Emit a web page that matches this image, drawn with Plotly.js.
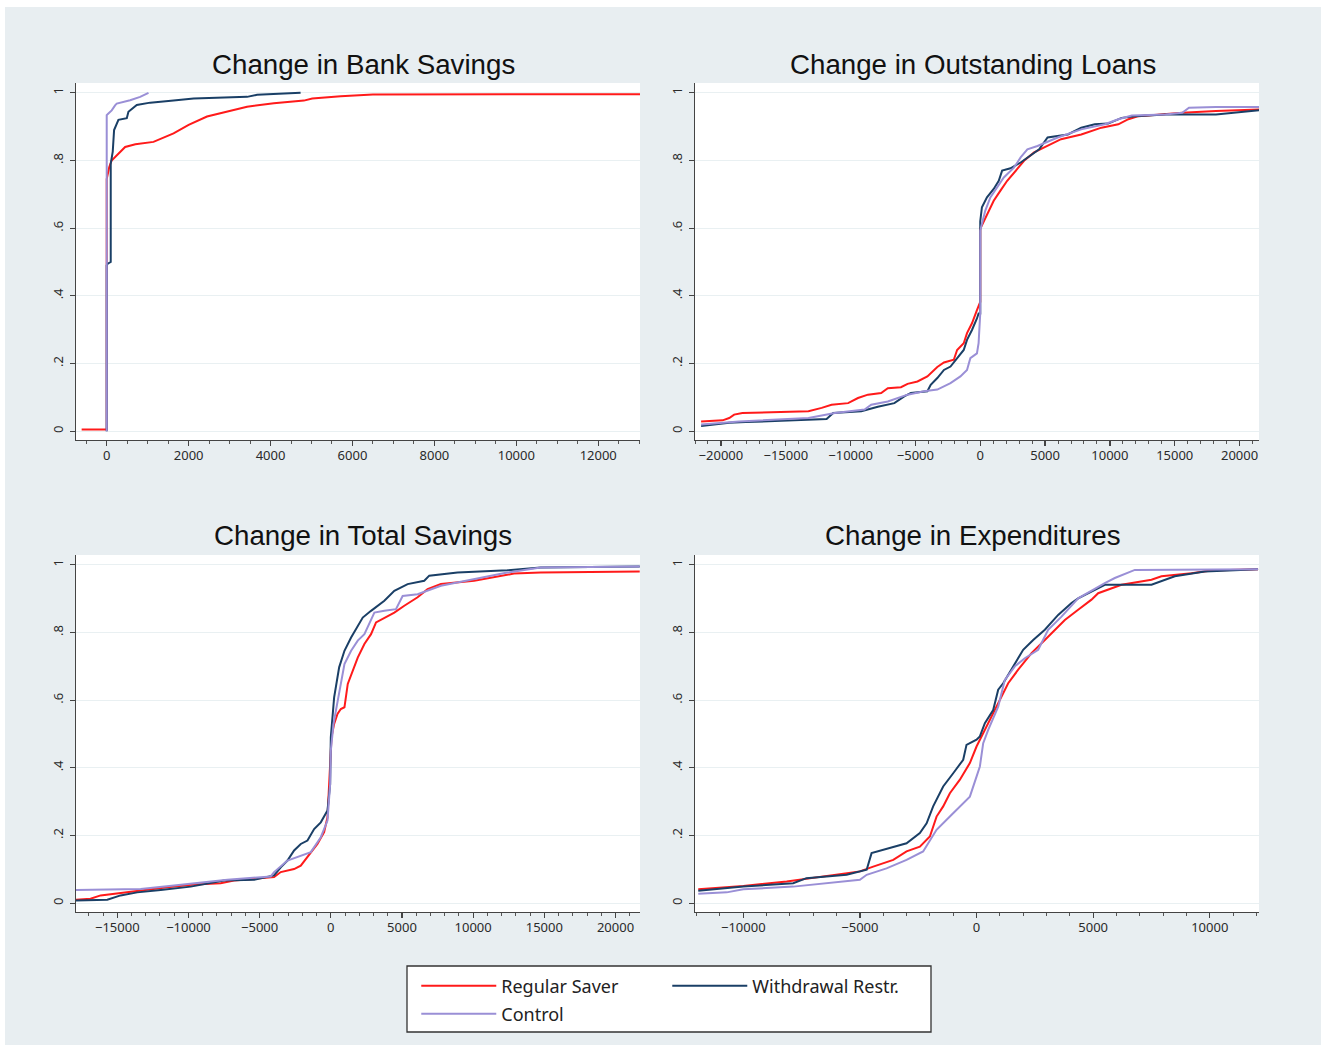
<!DOCTYPE html>
<html><head><meta charset="utf-8">
<script src="https://cdn.plot.ly/plotly-3.0.1.min.js"></script>
<style>
html,body{margin:0;padding:0;background:#ffffff;}
#chart{position:absolute;left:5px;top:7px;width:1316px;height:1038px;}
</style></head><body><div id="chart"></div>
<script>
// ---------- data ----------
const seriesNames = ['Regular Saver', 'Withdrawal Restr.', 'Control'];
const seriesColors = ['#ff1a1a', '#1a3f66', '#9a8fd6'];
const panelTitles = ['Change in Bank Savings', 'Change in Outstanding Loans', 'Change in Total Savings', 'Change in Expenditures'];
const yTickVals = [0, 0.2, 0.4, 0.6, 0.8, 1];
const yTickText = ['0', '.2', '.4', '.6', '.8', '1'];

// Panel 1: Change in Bank Savings
const bankRegX = [-612, 0, 0, 60, 120, 200, 300, 450, 700, 1142, 1632, 2000, 2448, 2938, 3427, 4080, 4814, 5018, 5712, 6500, 13020];
const bankRegY = [0.005, 0.005, 0.745, 0.78, 0.80, 0.81, 0.82, 0.84, 0.848, 0.855, 0.88, 0.905, 0.93, 0.944, 0.959, 0.969, 0.977, 0.983, 0.99, 0.995, 0.996];
const bankWrX = [0, 0, 24, 98, 98, 147, 180, 286, 490, 530, 734, 1061, 1632, 2122, 3427, 3672, 4733];
const bankWrY = [0, 0.49, 0.495, 0.5, 0.79, 0.826, 0.89, 0.92, 0.925, 0.944, 0.964, 0.971, 0.977, 0.983, 0.988, 0.994, 1.0];
const bankCtX = [0, 0, 41, 122, 204, 245, 571, 816, 1020];
const bankCtY = [0, 0.934, 0.939, 0.948, 0.963, 0.968, 0.978, 0.988, 1.0];

// Panel 2: Change in Outstanding Loans
const loanRegX = [-21530, -19870, -19360, -18980, -18345, -13250, -12230, -11470, -10190, -9430, -8660, -7640, -7130, -6115, -5605, -4840, -4076, -3311, -2800, -2038, -1784, -1274, -1020, -637, -255, -51, 0, 0, 519, 1039, 1558, 2078, 2857, 3376, 4155, 5194, 6233, 7791, 8570, 9349, 10648, 11427, 12206, 13764, 15582, 18180, 21685];
const loanRegY = [0.029, 0.032, 0.039, 0.049, 0.054, 0.059, 0.069, 0.078, 0.083, 0.098, 0.108, 0.113, 0.127, 0.13, 0.14, 0.147, 0.162, 0.19, 0.203, 0.211, 0.24, 0.26, 0.29, 0.319, 0.358, 0.382, 0.382, 0.598, 0.642, 0.681, 0.711, 0.74, 0.775, 0.799, 0.824, 0.843, 0.863, 0.877, 0.887, 0.897, 0.907, 0.922, 0.931, 0.936, 0.941, 0.946, 0.951];
const loanWrX = [-21530, -19360, -18090, -11850, -11340, -9170, -7900, -6625, -5860, -5350, -4076, -3820, -3311, -2800, -2293, -1784, -1274, -1020, -637, -255, -127, 0, 0, 130, 519, 1039, 1428, 1688, 2337, 3116, 3895, 4545, 5194, 6752, 7791, 8830, 9868, 10907, 11946, 14283, 18180, 21685];
const loanWrY = [0.015, 0.025, 0.027, 0.036, 0.054, 0.059, 0.072, 0.083, 0.103, 0.113, 0.118, 0.137, 0.157, 0.181, 0.191, 0.216, 0.24, 0.27, 0.299, 0.333, 0.348, 0.348, 0.62, 0.662, 0.691, 0.716, 0.74, 0.77, 0.777, 0.794, 0.814, 0.833, 0.868, 0.877, 0.897, 0.907, 0.909, 0.926, 0.931, 0.936, 0.936, 0.949];
const loanCtX = [-21530, -18600, -13250, -11720, -11210, -8920, -8410, -7130, -5605, -4330, -3311, -2293, -1530, -1020, -764, -255, -127, 0, 0, 130, 390, 779, 1299, 1818, 2598, 3116, 3636, 4415, 5973, 7791, 9609, 10648, 11687, 14283, 15582, 16100, 18180, 21685];
const loanCtY = [0.02, 0.029, 0.039, 0.049, 0.054, 0.064, 0.078, 0.088, 0.108, 0.118, 0.123, 0.142, 0.162, 0.181, 0.216, 0.23, 0.26, 0.348, 0.593, 0.613, 0.652, 0.691, 0.721, 0.75, 0.779, 0.809, 0.833, 0.843, 0.868, 0.892, 0.907, 0.922, 0.933, 0.936, 0.941, 0.956, 0.958, 0.958];

// Panel 3: Change in Total Savings
const totRegX = [-17930, -16880, -16170, -15240, -13360, -11490, -9600, -7740, -6800, -5390, -3985, -3516, -2580, -2110, -1640, -938, -469, -234, 0, 47, 234, 469, 703, 958, 1191, 1542, 1892, 2359, 2826, 3177, 3761, 4462, 5163, 6098, 6798, 7733, 10068, 12870, 14740, 21700];
const totRegY = [0.01, 0.013, 0.023, 0.028, 0.037, 0.047, 0.055, 0.059, 0.067, 0.072, 0.077, 0.092, 0.101, 0.111, 0.136, 0.175, 0.21, 0.254, 0.45, 0.49, 0.53, 0.559, 0.574, 0.579, 0.648, 0.687, 0.726, 0.766, 0.795, 0.83, 0.844, 0.859, 0.879, 0.904, 0.928, 0.943, 0.953, 0.974, 0.977, 0.98];
const totWrX = [-17930, -15700, -14770, -13600, -11950, -9845, -7500, -5390, -3985, -3516, -3047, -2578, -2110, -1640, -1172, -703, -234, -47, 0, 234, 586, 820, 958, 1425, 1892, 2243, 2826, 3761, 4462, 5396, 6564, 6915, 8900, 12400, 14740, 21700];
const totWrY = [0.008, 0.01, 0.023, 0.032, 0.039, 0.049, 0.067, 0.069, 0.082, 0.106, 0.126, 0.156, 0.175, 0.185, 0.219, 0.239, 0.274, 0.352, 0.49, 0.608, 0.697, 0.726, 0.746, 0.785, 0.82, 0.844, 0.864, 0.894, 0.923, 0.943, 0.953, 0.968, 0.977, 0.984, 0.992, 0.995];
const totCtX = [-17930, -13360, -11020, -8670, -7270, -4220, -3985, -3047, -2110, -1406, -703, -234, -47, 0, 188, 469, 703, 958, 1425, 1892, 2359, 3060, 3761, 4579, 5046, 6098, 7733, 10068, 12400, 14740, 21700];
const totCtY = [0.039, 0.042, 0.052, 0.062, 0.069, 0.079, 0.092, 0.126, 0.141, 0.151, 0.195, 0.244, 0.352, 0.45, 0.53, 0.598, 0.648, 0.707, 0.746, 0.776, 0.795, 0.859, 0.864, 0.869, 0.908, 0.913, 0.938, 0.958, 0.977, 0.992, 0.995];

// Panel 4: Change in Expenditures
const expRegX = [-11930, -10000, -8140, -6140, -5000, -4430, -3570, -3000, -2430, -2000, -1714, -1430, -1143, -714, -286, 0, 357, 714, 1071, 1357, 1786, 2357, 2929, 3357, 3786, 4357, 4929, 5214, 6214, 7500, 7929, 9214, 10070, 12070];
const expRegY = [0.041, 0.051, 0.064, 0.084, 0.094, 0.108, 0.128, 0.153, 0.167, 0.197, 0.256, 0.286, 0.325, 0.365, 0.414, 0.463, 0.512, 0.562, 0.611, 0.65, 0.69, 0.739, 0.778, 0.808, 0.837, 0.867, 0.897, 0.916, 0.941, 0.956, 0.966, 0.975, 0.983, 0.987];
const expWrX = [-11930, -10000, -7860, -7290, -5570, -4710, -4500, -3570, -3000, -2430, -2140, -1860, -1430, -1000, -571, -430, 0, 143, 357, 714, 929, 1143, 1643, 2000, 2429, 2929, 3500, 4071, 4357, 4929, 5500, 7500, 8500, 9786, 12070];
const expWrY = [0.037, 0.049, 0.059, 0.074, 0.084, 0.099, 0.148, 0.167, 0.177, 0.207, 0.236, 0.286, 0.345, 0.384, 0.424, 0.468, 0.483, 0.493, 0.532, 0.571, 0.631, 0.65, 0.709, 0.749, 0.778, 0.808, 0.852, 0.887, 0.901, 0.921, 0.941, 0.941, 0.966, 0.98, 0.987];
const expCtX = [-11930, -10710, -10000, -7860, -5000, -4710, -3860, -3000, -2290, -1714, -1143, -714, -286, 0, 143, 286, 500, 929, 1214, 1643, 2071, 2643, 3071, 3643, 4357, 5500, 5929, 6786, 9357, 12070];
const expCtY = [0.028, 0.032, 0.041, 0.049, 0.069, 0.084, 0.103, 0.128, 0.153, 0.217, 0.256, 0.286, 0.315, 0.374, 0.404, 0.473, 0.512, 0.581, 0.66, 0.7, 0.724, 0.749, 0.808, 0.847, 0.901, 0.946, 0.961, 0.985, 0.985, 0.987];

// axis settings per panel
const xRanges = [[-750, 13020], [-22000, 21500], [-17900, 21720], [-12070, 12110]];
const xDticks = [2000, 5000, 5000, 5000];
const xMinor = [500, 1000, 1000, 1000];

// ---------- build ----------
const panels = [
  [[bankRegX, bankRegY], [bankWrX, bankWrY], [bankCtX, bankCtY]],
  [[loanRegX, loanRegY], [loanWrX, loanWrY], [loanCtX, loanCtY]],
  [[totRegX, totRegY], [totWrX, totWrY], [totCtX, totCtY]],
  [[expRegX, expRegY], [expWrX, expWrY], [expCtX, expCtY]]
];

const traces = [];
panels.forEach((p, pi) => {
  p.forEach((s, si) => {
    traces.push({
      type: 'scatter', mode: 'lines',
      x: s[0], y: s[1],
      name: seriesNames[si],
      line: {color: seriesColors[si], width: 2},
      xaxis: 'x' + (pi === 0 ? '' : pi + 1),
      yaxis: 'y' + (pi === 0 ? '' : pi + 1),
      showlegend: pi === 0,
      legend: si === 2 ? 'legend2' : 'legend',
      hoverinfo: 'skip'
    });
  });
});

const W = 1316, H = 1038;
const mL = 71, mR = 62, mT = 76, mB = 133;
const pw = W - mL - mR, ph = H - mT - mB;
const xDomL = [0, (635 - mL) / pw];
const xDomR = [(690 - mL) / pw, 1];
const yDomT = [(H - mB - 433) / ph, 1];
const yDomB = [0, (H - mB - 548) / ph];

const tickFont = {family: 'Noto Sans, Open Sans, sans-serif', size: 13, color: '#2a2a2a'};
function xax(i, dom, anchor) {
  return {
    domain: dom, anchor: anchor, range: xRanges[i], dtick: xDticks[i], tick0: 0,
    showgrid: false, zeroline: false, showline: true, linecolor: '#444444', linewidth: 1.3,
    ticks: 'outside', ticklen: 5, tickwidth: 1.2, tickcolor: '#444444',
    minor: {dtick: xMinor[i], ticks: 'outside', ticklen: 3, tickwidth: 1, tickcolor: '#555555', showgrid: false},
    exponentformat: 'none', separatethousands: false, ticklabelstandoff: -2,
    tickfont: tickFont, fixedrange: true
  };
}
function yax(dom, anchor) {
  return {
    domain: dom, anchor: anchor, range: [-0.026, 1.029],
    tickvals: yTickVals, ticktext: yTickText, tickangle: -90, ticklabelstandoff: 2,
    showgrid: true, gridcolor: '#e9f0f2', gridwidth: 1.2,
    zeroline: false, showline: true, linecolor: '#444444', linewidth: 1.3,
    ticks: 'outside', ticklen: 5, tickwidth: 1.2, tickcolor: '#444444',
    tickfont: tickFont, fixedrange: true
  };
}

const titleFont = {family: 'Liberation Sans, Arial, sans-serif', size: 27.7, color: '#111111'};
const titleX = [(358 - mL) / pw, (968 - mL) / pw];
const titleY = [(H - mB - 57) / ph, (H - mB - 528) / ph];
const annotations = panelTitles.map((t, i) => ({
  text: t, xref: 'paper', yref: 'paper',
  x: titleX[i % 2], y: titleY[Math.floor(i / 2)],
  xanchor: 'center', yanchor: 'middle', showarrow: false, font: titleFont
}));

const legendFont = {family: 'Noto Sans, Open Sans, sans-serif', size: 18, color: '#222222'};
const boxX0 = (402 - mL) / pw, boxX1 = (926 - mL) / pw;
const boxY0 = (H - mB - 1025) / ph, boxY1 = (H - mB - 959) / ph;
const legX = (412 - mL) / pw - 0.004 + 4 / pw;

const layout = {
  width: W, height: H,
  margin: {l: mL, r: mR, t: mT, b: mB, pad: 0},
  separators: '.',
  paper_bgcolor: '#e8eef1', plot_bgcolor: '#ffffff',
  showlegend: true,
  xaxis: xax(0, xDomL, 'y'), yaxis: yax(yDomT, 'x'),
  xaxis2: xax(1, xDomR, 'y2'), yaxis2: yax(yDomT, 'x2'),
  xaxis3: xax(2, xDomL, 'y3'), yaxis3: yax(yDomB, 'x3'),
  xaxis4: xax(3, xDomR, 'y4'), yaxis4: yax(yDomB, 'x4'),
  annotations: annotations,
  shapes: [{type: 'rect', xref: 'paper', yref: 'paper', x0: boxX0, x1: boxX1, y0: boxY0, y1: boxY1,
            line: {color: '#333333', width: 1.3}, fillcolor: '#ffffff', layer: 'below'}],
  legend: {orientation: 'h', x: legX, xanchor: 'left', y: (H - mB - 979) / ph, yanchor: 'middle',
           entrywidth: 161, entrywidthmode: 'pixels', itemwidth: 75, bgcolor: 'rgba(0,0,0,0)', borderwidth: 0,
           font: legendFont, traceorder: 'normal'},
  legend2: {orientation: 'h', x: legX, xanchor: 'left', y: (H - mB - 1007) / ph, yanchor: 'middle',
           entrywidth: 161, entrywidthmode: 'pixels', itemwidth: 75, bgcolor: 'rgba(0,0,0,0)', borderwidth: 0,
           font: legendFont}
};

Plotly.newPlot('chart', traces, layout, {displayModeBar: false, staticPlot: true});
</script></body></html>
